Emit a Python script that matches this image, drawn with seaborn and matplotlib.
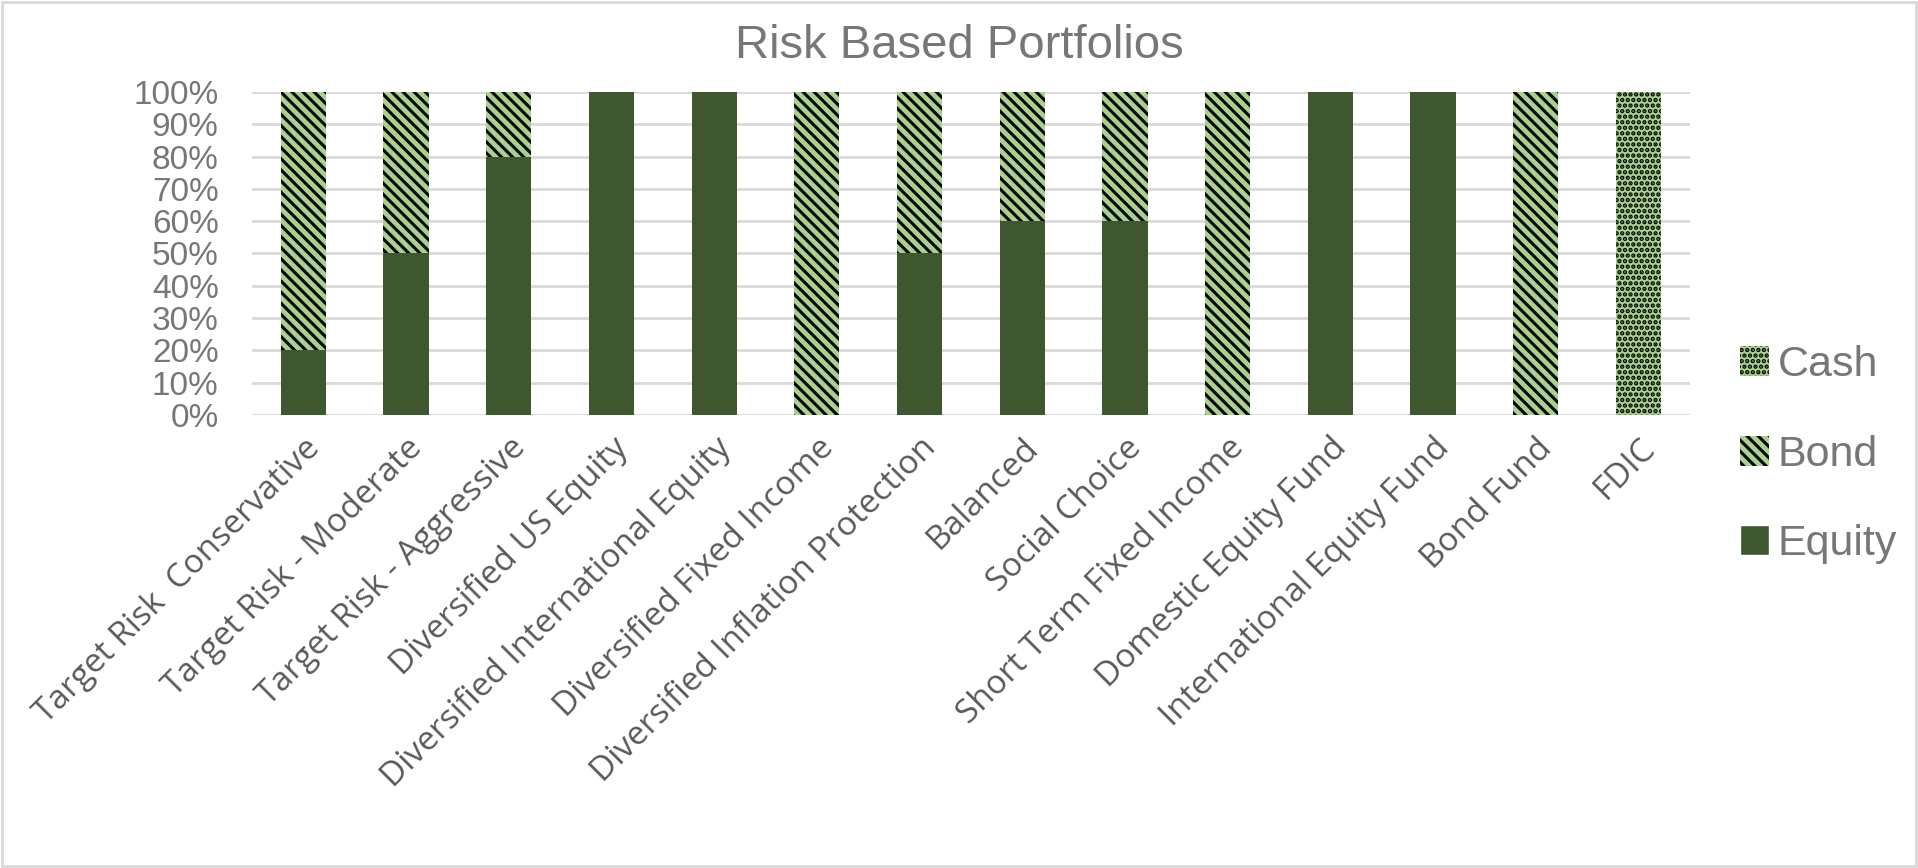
import numpy as np
import matplotlib
matplotlib.use('Agg')
import matplotlib.pyplot as plt
import seaborn as sns
from matplotlib.patches import Patch, Rectangle
from matplotlib.ticker import PercentFormatter

categories = ['Target Risk  Conservative', 'Target Risk - Moderate', 'Target Risk - Aggressive',
              'Diversified US Equity', 'Diversified International Equity', 'Diversified Fixed Income',
              'Diversified Inflation Protection', 'Balanced', 'Social Choice',
              'Short Term Fixed Income', 'Domestic Equity Fund', 'International Equity Fund',
              'Bond Fund', 'FDIC']
equity = [0.20, 0.50, 0.80, 1.00, 1.00, 0.00, 0.50, 0.60, 0.60, 0.00, 1.00, 1.00, 0.00, 0.00]
bond = [0.80, 0.50, 0.20, 0.00, 0.00, 1.00, 0.50, 0.40, 0.40, 1.00, 0.00, 0.00, 1.00, 0.00]
cash = [0.00, 0.00, 0.00, 0.00, 0.00, 0.00, 0.00, 0.00, 0.00, 0.00, 0.00, 0.00, 0.00, 1.00]

dark_green = '#3F572E'
light_green = '#A9D18E'
grey_text = '#77777B'

sns.set_theme(style='white')
plt.rcParams['font.family'] = ['Liberation Sans', 'DejaVu Sans']
plt.rcParams['hatch.linewidth'] = 2.2

fig = plt.figure(figsize=(19.18, 8.68), dpi=100)
ax = fig.add_axes([0.1314, 0.5219, 0.7496, 0.3721])

# stacked by drawing cumulative totals, top layer first
top_cash = np.array(equity) + np.array(bond) + np.array(cash)
top_bond = np.array(equity) + np.array(bond)
layers = [(top_cash, light_green, '...'), (top_bond, light_green, '\\\\\\'), (np.array(equity), dark_green, None)]
for heights, col, hatch in layers:
    n_before = len(ax.patches)
    sns.barplot(x=categories, y=heights, color=col, width=0.44, linewidth=0,
                edgecolor='black', saturation=1, ax=ax, zorder=3)
    for p in ax.patches[n_before:]:
        p.set_facecolor(col)
        if hatch:
            p.set_hatch(hatch)

ax.set_ylim(0, 1)
ax.set_yticks(np.arange(0, 1.01, 0.1))
ax.yaxis.set_major_formatter(PercentFormatter(1.0, decimals=0))
ax.grid(axis='y', color='#D9D9D9', linewidth=2, zorder=0)
ax.set_axisbelow(True)
for s in ax.spines.values():
    s.set_visible(False)
ax.tick_params(axis='y', length=0, pad=24, labelsize=24, labelcolor=grey_text)
ax.tick_params(axis='x', length=0, pad=12)
for lab in ax.get_xticklabels():
    lab.set_rotation(45)
    lab.set_ha('right')
    lab.set_rotation_mode('anchor')
    lab.set_fontsize(24)
    lab.set_color('#595959')
    lab.set_family(['Open Sans', 'DejaVu Sans'])

fig.text(0.5, 0.947, 'Risk Based Portfolios', ha='center', va='center', fontsize=34, color=grey_text)

handles = [Patch(facecolor=light_green, hatch='...', edgecolor='black', linewidth=0, label='Cash'),
           Patch(facecolor=light_green, hatch='\\\\\\', edgecolor='black', linewidth=0, label='Bond'),
           Patch(facecolor=dark_green, label='Equity')]
fig.legend(handles=handles, loc='center left', bbox_to_anchor=(0.896, 0.476), frameon=False,
           fontsize=31, handlelength=0.68, handleheight=0.68, handletextpad=0.2,
           labelspacing=1.15, borderpad=0, labelcolor=grey_text)

fig.add_artist(Rectangle((0.001, 0.002), 0.998, 0.996, transform=fig.transFigure,
                         fill=False, edgecolor='#D9D9D9', linewidth=2))

fig.savefig('out.png', dpi=100)
